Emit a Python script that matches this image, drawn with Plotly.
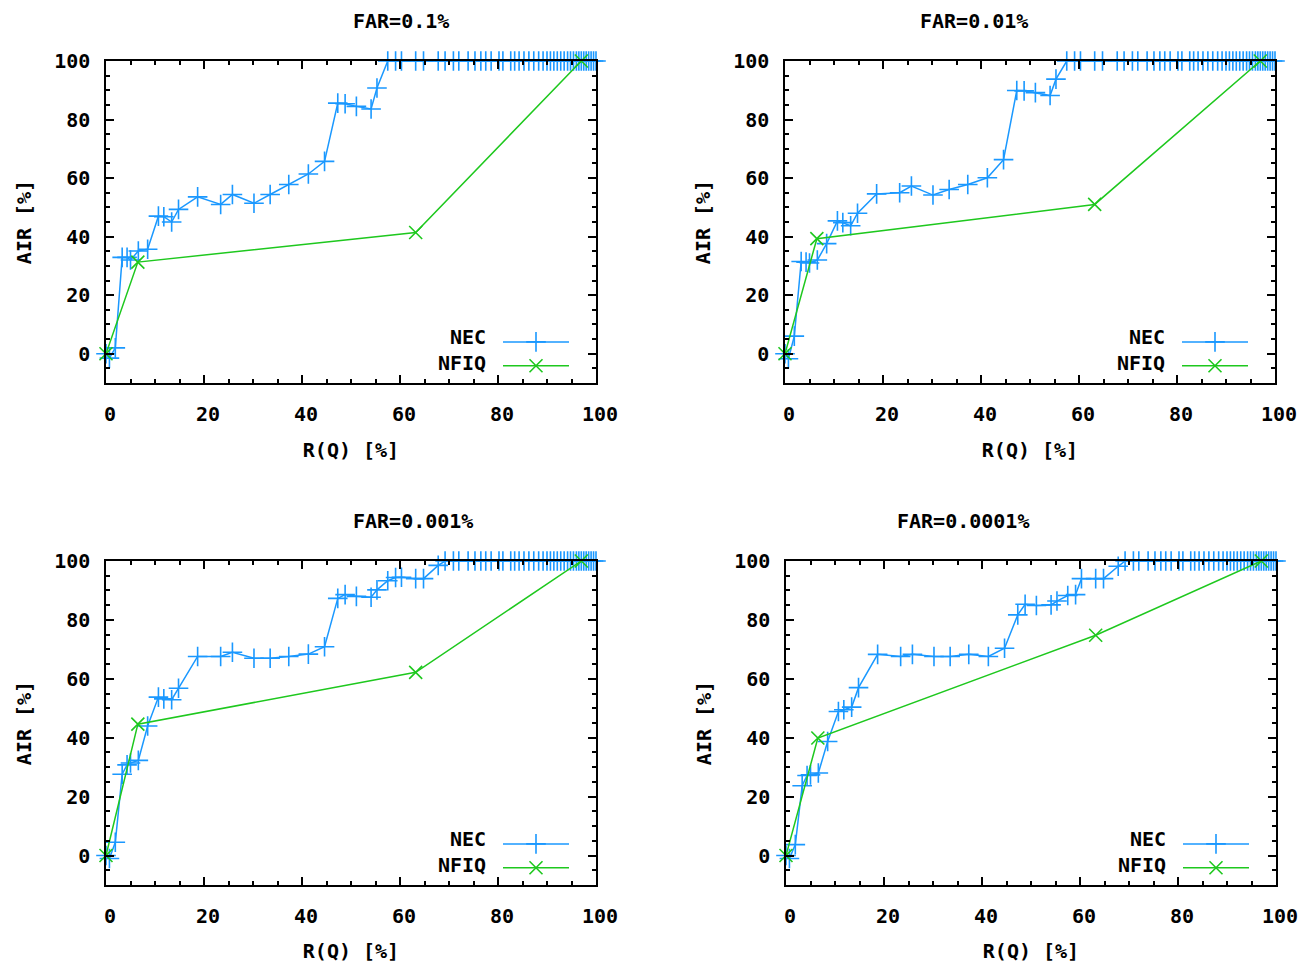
import plotly.graph_objects as go

# R(Q) [%] values, the same for every FAR level
nec_rq = [0, 0.7, 1.9, 3.3, 4.3, 5.0, 6.6, 8.5, 10.7, 11.8, 13.4, 14.8, 18.7, 23.4, 25.8,
          30.2, 33.5, 37.3, 41.3, 44.6, 47.3, 48.8, 51.1, 54.1, 55.3, 57.5, 59.1, 60.3,
          63.2, 64.8, 67.8, 69.2, 70.9, 72.0, 73.9, 75.3, 76.5, 77.5, 78.6, 80.2, 81.0,
          82.6, 83.4, 84.3, 85.3, 86.3, 87.3, 88.3, 89.2, 90.0, 90.7, 91.4, 92.1, 92.8,
          93.5, 94.2, 94.8, 95.4, 96.0, 96.5, 97.0, 97.5, 98.0, 98.5, 99.0, 99.5, 100]

# AIR [%] for NEC up to R(Q)=67.8, then all points sit at 100
nec_air_far_1e1 = [0, -1.5, 2.0, 32.9, 32.9, 32.0, 35.1, 35.7, 47.0, 46.8, 45.0, 49.3, 53.6,
                   51.0, 54.4, 51.4, 54.4, 57.8, 61.4, 65.7, 85.6, 85.4, 84.5, 83.6, 90.8,
                   100, 100, 100, 100, 100, 100]
nec_air_far_1e2 = [0, -1.7, 6.0, 31.5, 31.3, 31.0, 32.0, 37.6, 45.4, 44.8, 43.7, 48.0, 54.6,
                   55.0, 57.3, 54.2, 56.1, 57.8, 60.1, 66.3, 89.9, 89.8, 89.2, 88.2, 93.8,
                   100, 100, 100, 100, 100, 100]
nec_air_far_1e3 = [0, -1.0, 4.5, 27.6, 30.8, 31.4, 32.3, 44.0, 53.8, 53.2, 52.9, 56.8, 67.6,
                   67.6, 69.0, 67.0, 67.0, 67.6, 68.4, 70.9, 87.3, 88.6, 88.0, 87.7, 90.2,
                   93.3, 94.4, 94.5, 94.0, 94.0, 98.5]
nec_air_far_1e4 = [0, -1.0, 3.7, 23.7, 27.2, 27.4, 28.0, 38.7, 48.9, 49.5, 50.4, 57.0, 68.3,
                   67.6, 68.3, 67.6, 67.6, 68.3, 67.6, 70.4, 81.7, 85.3, 84.9, 85.1, 86.4,
                   88.3, 88.6, 94.0, 94.0, 94.0, 98.2]
nec_air_top = [100, 100, 100, 100, 100, 100, 100, 100, 100, 100, 100, 100,
               100, 100, 100, 100, 100, 100, 100, 100, 100, 100, 100, 100,
               100, 100, 100, 100, 100, 100, 100, 100, 100, 100, 100, 100]

nfiq_rq = [0, 6.5, 63.2, 97.0]
nfiq_air_far_1e1 = [0, 31.3, 41.4, 100]
nfiq_air_far_1e2 = [0, 39.3, 51.0, 100]
nfiq_air_far_1e3 = [0, 44.6, 62.2, 100]
nfiq_air_far_1e4 = [0, 39.9, 74.8, 100]

titles = ['FAR=0.1%', 'FAR=0.01%', 'FAR=0.001%', 'FAR=0.0001%']
nec_sets = [nec_air_far_1e1, nec_air_far_1e2, nec_air_far_1e3, nec_air_far_1e4]
nfiq_sets = [nfiq_air_far_1e1, nfiq_air_far_1e2, nfiq_air_far_1e3, nfiq_air_far_1e4]

BLUE = '#1a98ff'
GREEN = '#1ec81e'
FONT = dict(family='DejaVu Sans Mono', size=20, color='black', weight='bold')

W, H = 1299, 963

def px(v):
    return v / W

def py(v):
    return 1 - v / H

# panel boxes in window pixels: left, right, top, bottom
boxes = [(106, 596, 61, 383), (785, 1275, 61, 383),
         (106, 596, 561, 885), (786, 1276, 561, 885)]

fig = go.Figure()
annotations = []
layout_axes = {}

for i in range(4):
    n = '' if i == 0 else str(i + 1)
    leg = 'legend' + n
    left, right, top, bottom = boxes[i]

    fig.add_trace(go.Scatter(
        x=nec_rq, y=nec_sets[i] + nec_air_top, mode='lines+markers', name=' ',
        line=dict(color=BLUE, width=1.5),
        marker=dict(symbol='cross-thin', size=14, line=dict(color=BLUE, width=1.6)),
        cliponaxis=False, xaxis='x' + n, yaxis='y' + n, legend=leg))
    fig.add_trace(go.Scatter(
        x=nfiq_rq, y=nfiq_sets[i], mode='lines+markers', name=' ',
        line=dict(color=GREEN, width=1.5),
        marker=dict(symbol='x-thin', size=13, line=dict(color=GREEN, width=1.6)),
        cliponaxis=False, xaxis='x' + n, yaxis='y' + n, legend=leg))

    axis_common = dict(showline=True, linecolor='black', linewidth=1.5, mirror='allticks',
                       ticks='inside', ticklen=8, tickwidth=1.5, tickcolor='black',
                       showgrid=False, zeroline=False, tickfont=FONT, dtick=20, tick0=0,
                       automargin=False, ticklabeloverflow='allow',
                       minor=dict(dtick=5, ticks='inside', ticklen=4, tickwidth=1.5,
                                  tickcolor='black', showgrid=False))
    layout_axes['xaxis' + n] = dict(
        axis_common, range=[0, 100], anchor='y' + n,
        domain=[px(left), px(right)], ticklabelstandoff=12, ticklabelshift=4,
        title=dict(text='R(Q) [%]', font=FONT, standoff=18))
    layout_axes['yaxis' + n] = dict(
        axis_common, range=[-10, 100], anchor='x' + n,
        domain=[py(bottom), py(top)], ticklabelstandoff=10,
        title=dict(text='AIR [%]', font=FONT, standoff=17))

    layout_axes[leg] = dict(x=px(right - 98), y=py(bottom - 58),
                            xanchor='left', yanchor='top', itemwidth=66,
                            bgcolor='rgba(0,0,0,0)', font=dict(FONT, size=16),
                            tracegroupgap=0)

    annotations.append(dict(text=titles[i], x=px((left + right) / 2), y=py(top - 40),
                            xref='paper', yref='paper', yanchor='middle',
                            showarrow=False, font=FONT))
    for name, dy in (('NEC', 46), ('NFIQ', 20)):
        annotations.append(dict(text=name, x=px(right - 108), y=py(bottom - dy),
                                xref='paper', yref='paper', xanchor='right',
                                yanchor='middle', showarrow=False, font=FONT))

fig.update_layout(
    width=W, height=H, margin=dict(l=0, r=0, t=0, b=0),
    paper_bgcolor='white', plot_bgcolor='white',
    annotations=annotations, showlegend=True, **layout_axes)

# drop the page's default body margin so the figure fills the window exactly
fig.write_html('out.html', config={'displayModeBar': False},
               post_script="document.body.style.margin = '0';")
